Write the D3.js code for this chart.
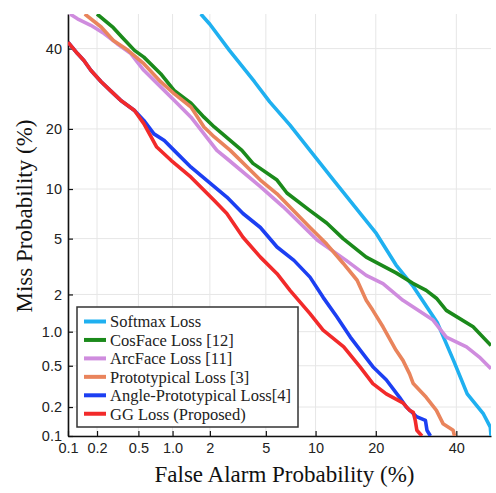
<!doctype html>
<html lang="en">
<head>
<meta charset="utf-8">
<title>DET curves</title>
<style>
  body { margin: 0; background: #fff; }
  svg { display: block; }
</style>
</head>
<body>
<div id="chart"></div>
<script src="https://d3js.org/d3.v7.min.js"></script>
<script>
// tick values (percent) on both probit axes
var tickValues = [0.1, 0.2, 0.5, 1, 2, 5, 10, 20, 40];
var tickLabels = ["0.1", "0.2", "0.5", "1.0", "2", "5", "10", "20", "40"];

var seriesNames = ["Softmax Loss", "CosFace Loss [12]", "ArcFace Loss [11]",
  "Prototypical Loss [3]", "Angle-Prototypical Loss[4]", "GG Loss (Proposed)"];
var seriesColors = ["#1fb0f0", "#1b8a1b", "#cf8cde", "#e9845c", "#1c3ff2", "#f22a2a"];

// false alarm % / miss %
var faSoftmax   = [1.7, 2.0, 2.8, 4.2, 5.3, 7.1, 9.3, 12.5, 17.0, 20.1, 24.4, 28.5, 34.8, 39.2, 43.1, 47.8, 49.8, 50];
var missSoftmax = [50, 47, 39.5, 31, 26, 20.8, 15.9, 11.2, 7.2, 5.4, 3.3, 2.3, 1.18, 0.56, 0.27, 0.17, 0.124, 0.1];

var faCosFace   = [0.2, 0.29, 0.35, 0.46, 0.56, 0.79, 1.03, 1.42, 1.8, 2.16, 3.44, 4.1, 5.9, 6.8, 9.3, 11.5, 14.0, 18.1, 24.4, 28.4, 31.8, 34.5, 37.2, 44.8, 50];
var missCosFace = [50, 46, 43.3, 39.5, 37.6, 33.1, 28.8, 25.7, 22.5, 20.4, 15.9, 13.7, 11.2, 9.5, 7.5, 6.3, 5.0, 3.75, 2.9, 2.43, 2.15, 1.87, 1.5, 1.1, 0.76];

var faArcFace   = [0.105, 0.126, 0.173, 0.235, 0.315, 0.425, 0.56, 0.74, 1.03, 1.42, 2.26, 2.68, 4.6, 6.45, 10.2, 14.5, 18.1, 21.5, 26, 28.4, 33.6, 37.2, 42.9, 46.6, 50];
var missArcFace = [50, 48.6, 46.7, 44.3, 41.4, 38.6, 34, 30.5, 26.4, 22.5, 15.9, 14.5, 10.3, 7.9, 4.9, 3.56, 2.78, 2.42, 1.8, 1.6, 1.25, 0.9, 0.74, 0.6, 0.47];

var faProto   = [0.15, 0.22, 0.29, 0.40, 0.56, 0.79, 1.03, 1.42, 1.8, 2.16, 2.84, 4.6, 5.9, 9.3, 11.5, 14.0, 16.4, 18.1, 19.4, 21.5, 24.4, 26.0, 27.6, 28.5, 31.8, 34.5, 36.3, 39.1, 39.5];
var missProto = [50, 46.2, 42.3, 39.5, 35.8, 31, 28, 24.8, 20.4, 18.4, 15.9, 11.2, 9.4, 5.9, 4.6, 3.4, 2.56, 1.8, 1.5, 1.1, 0.69, 0.56, 0.42, 0.34, 0.25, 0.185, 0.135, 0.115, 0.1];

var faAngle   = [0.1, 0.126, 0.147, 0.173, 0.22, 0.27, 0.34, 0.46, 0.56, 0.69, 0.85, 1.03, 1.42, 2.16, 2.68, 3.5, 4.6, 5.9, 7.5, 9.3, 11.0, 13.0, 15.2, 17.5, 19.4, 22.2, 25.2, 26.8, 29.3, 31.6, 32.0, 32.9];
var missAngle = [41.8, 38.6, 36.7, 34, 31, 28.8, 26.4, 24, 21.8, 19, 17.7, 15.9, 13.1, 10.3, 9.0, 7.2, 5.9, 4.4, 3.56, 2.7, 1.9, 1.33, 0.9, 0.64, 0.49, 0.37, 0.25, 0.2, 0.16, 0.146, 0.115, 0.1];

var faGG   = [0.1, 0.126, 0.147, 0.173, 0.22, 0.27, 0.34, 0.46, 0.56, 0.73, 0.97, 1.42, 2.16, 2.68, 3.5, 4.6, 5.9, 7.1, 9.3, 11.0, 14.1, 16.9, 19.4, 22.2, 26.0, 27.6, 28.5, 29.0, 29.4, 30.7];
var missGG = [41.8, 38.6, 36.7, 34, 31, 28.8, 26.4, 24, 21.1, 16.5, 14.2, 11.6, 8.6, 7.2, 5.1, 3.75, 2.86, 2.15, 1.41, 1.03, 0.74, 0.49, 0.34, 0.27, 0.22, 0.185, 0.177, 0.146, 0.115, 0.1];

var seriesFA = [faSoftmax, faCosFace, faArcFace, faProto, faAngle, faGG];
var seriesMiss = [missSoftmax, missCosFace, missArcFace, missProto, missAngle, missGG];

// inverse normal cdf (Acklam)
function probit(p) {
  var a = [-39.69683028665376, 220.9460984245205, -275.9285104469687, 138.357751867269, -30.66479806614716, 2.506628277459239];
  var b = [-54.47609879822406, 161.5858368580409, -155.6989798598866, 66.80131188771972, -13.28068155288572];
  var c = [-0.007784894002430293, -0.3223964580411365, -2.400758277161838, -2.549732539343734, 4.374664141464968, 2.938163982698783];
  var d = [0.007784695709041462, 0.3224671290700398, 2.445134137142996, 3.754408661907416];
  var q, r;
  if (p < 0.02425) {
    q = Math.sqrt(-2 * Math.log(p));
    return (((((c[0]*q+c[1])*q+c[2])*q+c[3])*q+c[4])*q+c[5]) / ((((d[0]*q+d[1])*q+d[2])*q+d[3])*q+1);
  } else if (p <= 1 - 0.02425) {
    q = p - 0.5; r = q * q;
    return (((((a[0]*r+a[1])*r+a[2])*r+a[3])*r+a[4])*r+a[5])*q / (((((b[0]*r+b[1])*r+b[2])*r+b[3])*r+b[4])*r+1);
  }
  q = Math.sqrt(-2 * Math.log(1 - p));
  return -(((((c[0]*q+c[1])*q+c[2])*q+c[3])*q+c[4])*q+c[5]) / ((((d[0]*q+d[1])*q+d[2])*q+d[3])*q+1);
}

// wrap a linear scale on the normal deviate so d3.axis can use it with percents
function probitScale(lin) {
  var s = function(pct) { return lin(probit(pct / 100)); };
  s.domain = function() { return [0.1, 50]; };
  s.range = function() { return lin.range(); };
  s.copy = function() { return probitScale(lin.copy()); };
  return s;
}

var W = 496, H = 493;
var plotLeft = 68, plotRight = 491, plotTop = 14, plotBottom = 436;

var x = probitScale(d3.scaleLinear().domain([probit(0.001), probit(0.5)]).range([plotLeft, plotRight]));
var y = probitScale(d3.scaleLinear().domain([probit(0.001), probit(0.5)]).range([plotBottom, plotTop]));

var svg = d3.select("#chart").append("svg")
  .attr("width", W)
  .attr("height", H);

svg.append("defs").append("clipPath").attr("id", "plotclip")
  .append("rect").attr("x", plotLeft).attr("y", plotTop)
  .attr("width", plotRight - plotLeft).attr("height", plotBottom - plotTop);

// grid
var grid = svg.append("g").attr("stroke", "#e6e6e6").attr("stroke-width", 1);
grid.selectAll(".gx").data(tickValues).enter().append("line")
  .attr("x1", function(d){ return x(d); }).attr("x2", function(d){ return x(d); })
  .attr("y1", plotTop).attr("y2", plotBottom);
grid.selectAll(".gy").data(tickValues).enter().append("line")
  .attr("y1", function(d){ return y(d); }).attr("y2", function(d){ return y(d); })
  .attr("x1", plotLeft).attr("x2", plotRight);

// axes
function fmt(d) { return tickLabels[tickValues.indexOf(d)]; }

var xAxis = svg.append("g")
  .attr("transform", "translate(0," + plotBottom + ")")
  .call(d3.axisBottom(x).tickValues(tickValues).tickFormat(fmt)
    .tickSizeInner(-5).tickSizeOuter(0).tickPadding(7));

var yAxis = svg.append("g")
  .attr("transform", "translate(" + plotLeft + ",0)")
  .call(d3.axisLeft(y).tickValues(tickValues).tickFormat(fmt)
    .tickSizeInner(-5).tickSizeOuter(0).tickPadding(6));

[xAxis, yAxis].forEach(function(g) {
  g.attr("font-family", "'Liberation Sans', Arial, sans-serif").attr("font-size", 14.5);
  g.select(".domain").attr("stroke", "#111").attr("stroke-width", 1.6);
  g.selectAll(".tick line").attr("stroke", "#111").attr("stroke-width", 1.2);
  g.selectAll(".tick text").attr("fill", "#222");
});

// curves
var line = d3.line()
  .x(function(d){ return x(d[0]); })
  .y(function(d){ return y(d[1]); });

var curves = svg.append("g").attr("clip-path", "url(#plotclip)");
seriesNames.forEach(function(name, i) {
  var pts = seriesFA[i].map(function(fa, j){ return [fa, seriesMiss[i][j]]; });
  curves.append("path")
    .attr("d", line(pts))
    .attr("fill", "none")
    .attr("stroke", seriesColors[i])
    .attr("stroke-width", 3.6)
    .attr("stroke-linejoin", "round")
    .attr("stroke-linecap", "butt");
});

// axis titles
svg.append("text")
  .attr("x", (plotLeft + plotRight) / 2 + 5).attr("y", 482)
  .attr("text-anchor", "middle")
  .attr("font-family", "'Liberation Serif', 'Times New Roman', serif")
  .attr("font-size", 23).attr("fill", "#111")
  .text("False Alarm Probability (%)");

svg.append("text")
  .attr("transform", "translate(32," + 216 + ") rotate(-90)")
  .attr("text-anchor", "middle")
  .attr("font-family", "'Liberation Serif', 'Times New Roman', serif")
  .attr("font-size", 23).attr("fill", "#111")
  .text("Miss Probability (%)");

// legend
var legend = svg.append("g");
legend.append("rect")
  .attr("x", 77).attr("y", 307).attr("width", 221).attr("height", 120)
  .attr("fill", "#fff").attr("stroke", "#333").attr("stroke-width", 1.5);

var rows = legend.selectAll(".row").data(seriesNames).enter().append("g")
  .attr("transform", function(d, i){ return "translate(0," + (321.5 + i * 18.45) + ")"; });
rows.append("line")
  .attr("x1", 84).attr("x2", 106).attr("y1", 0).attr("y2", 0)
  .attr("stroke", function(d, i){ return seriesColors[i]; })
  .attr("stroke-width", 4);
rows.append("text")
  .attr("x", 110).attr("y", 0).attr("dy", "0.35em")
  .attr("font-family", "'Liberation Serif', 'Times New Roman', serif")
  .attr("font-size", 16.5).attr("fill", "#222")
  .text(function(d){ return d; });
</script>
</body>
</html>
